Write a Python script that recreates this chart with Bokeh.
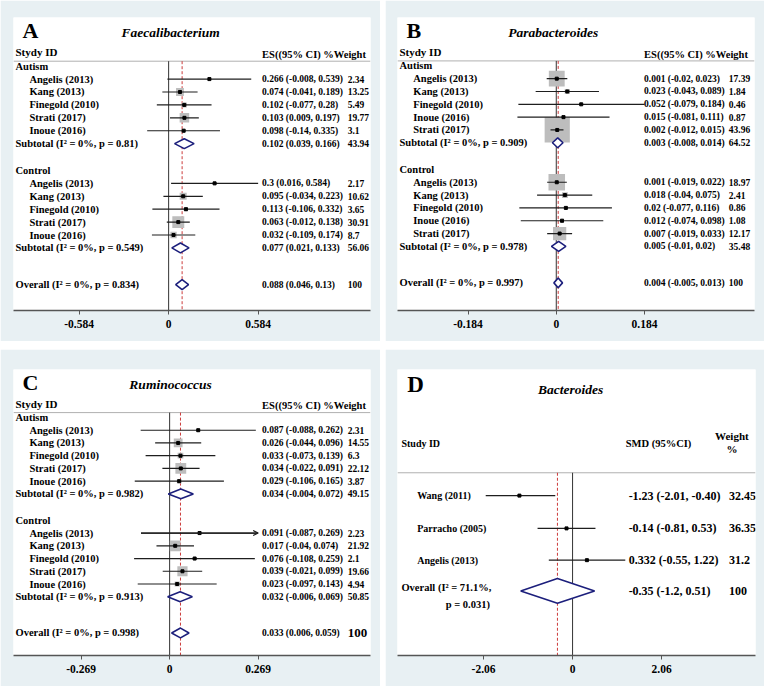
import math
from bokeh.plotting import figure
from bokeh.models import ColumnDataSource, Range1d, FixedTicker, Arrow, OpenHead
from bokeh.layouts import row, column
from bokeh.core.properties import value
from bokeh.embed import file_html
from bokeh.resources import INLINE

FONT = "Liberation Serif"
BG = "#e8f0f3"
NAVY = "#1c1f7c"
RED = "#cc3b3b"
BOXC = "#bdbdbd"
LINEC = "#1e1e1e"

# ======================= DATA =======================
# ---- Panel A: Faecalibacterium
a_title = "Faecalibacterium"
a_ticks = ["-0.584", "0", "0.584"]
a_aut_names = ["Angelis (2013)", "Kang (2013)", "Finegold (2010)", "Strati (2017)", "Inoue (2016)"]
a_aut_es = ["0.266", "0.074", "0.102", "0.103", "0.098"]
a_aut_lo = ["-0.008", "-0.041", "-0.077", "0.009", "-0.14"]
a_aut_hi = ["0.539", "0.189", "0.28", "0.197", "0.335"]
a_aut_w = ["2.34", "13.25", "5.49", "19.77", "3.1"]
a_aut_sub = ["0.102", "0.039", "0.166", "43.94"]
a_aut_het = ["0%", "0.81"]
a_ctl_names = ["Angelis (2013)", "Kang (2013)", "Finegold (2010)", "Strati (2017)", "Inoue (2016)"]
a_ctl_es = ["0.3", "0.095", "0.113", "0.063", "0.032"]
a_ctl_lo = ["0.016", "-0.034", "-0.106", "-0.012", "-0.109"]
a_ctl_hi = ["0.584", "0.223", "0.332", "0.138", "0.174"]
a_ctl_w = ["2.17", "10.62", "3.65", "30.91", "8.7"]
a_ctl_sub = ["0.077", "0.021", "0.133", "56.06"]
a_ctl_het = ["0%", "0.549"]
a_overall = ["0.088", "0.046", "0.13", "100"]
a_overall_het = ["0%", "0.834"]

# ---- Panel B: Parabacteroides
b_title = "Parabacteroides"
b_ticks = ["-0.184", "0", "0.184"]
b_aut_names = ["Angelis (2013)", "Kang (2013)", "Finegold (2010)", "Inoue (2016)", "Strati (2017)"]
b_aut_es = ["0.001", "0.023", "0.052", "0.015", "0.002"]
b_aut_lo = ["-0.02", "-0.043", "-0.079", "-0.081", "-0.012"]
b_aut_hi = ["0.023", "0.089", "0.184", "0.111", "0.015"]
b_aut_w = ["17.39", "1.84", "0.46", "0.87", "43.96"]
b_aut_sub = ["0.003", "-0.008", "0.014", "64.52"]
b_aut_het = ["0%", "0.909"]
b_ctl_names = ["Angelis (2013)", "Kang (2013)", "Finegold (2010)", "Inoue (2016)", "Strati (2017)"]
b_ctl_es = ["0.001", "0.018", "0.02", "0.012", "0.007"]
b_ctl_lo = ["-0.019", "-0.04", "-0.077", "-0.074", "-0.019"]
b_ctl_hi = ["0.022", "0.075", "0.116", "0.098", "0.033"]
b_ctl_w = ["18.97", "2.41", "0.86", "1.08", "12.17"]
b_ctl_sub = ["0.005", "-0.01", "0.02", "35.48"]
b_ctl_het = ["0%", "0.978"]
b_overall = ["0.004", "-0.005", "0.013", "100"]
b_overall_het = ["0%", "0.997"]

# ---- Panel C: Ruminococcus
c_title = "Ruminococcus"
c_ticks = ["-0.269", "0", "0.269"]
c_aut_names = ["Angelis (2013)", "Kang (2013)", "Finegold (2010)", "Strati (2017)", "Inoue (2016)"]
c_aut_es = ["0.087", "0.026", "0.033", "0.034", "0.029"]
c_aut_lo = ["-0.088", "-0.044", "-0.073", "-0.022", "-0.106"]
c_aut_hi = ["0.262", "0.096", "0.139", "0.091", "0.165"]
c_aut_w = ["2.31", "14.55", "6.3", "22.12", "3.87"]
c_aut_sub = ["0.034", "-0.004", "0.072", "49.15"]
c_aut_het = ["0%", "0.982"]
c_ctl_names = ["Angelis (2013)", "Kang (2013)", "Finegold (2010)", "Strati (2017)", "Inoue (2016)"]
c_ctl_es = ["0.091", "0.017", "0.076", "0.039", "0.023"]
c_ctl_lo = ["-0.087", "-0.04", "-0.108", "-0.021", "-0.097"]
c_ctl_hi = ["0.269", "0.074", "0.259", "0.099", "0.143"]
c_ctl_w = ["2.23", "21.92", "2.1", "19.66", "4.94"]
c_ctl_sub = ["0.032", "-0.006", "0.069", "50.85"]
c_ctl_het = ["0%", "0.913"]
c_overall = ["0.033", "0.006", "0.059", "100"]
c_overall_het = ["0%", "0.998"]
c_ctl_arrow = ["Angelis (2013)"]   # CI drawn with an arrow head

# ---- Panel D: Bacteroides
d_title = "Bacteroides"
d_ticks = ["-2.06", "0", "2.06"]
d_names = ["Wang (2011)", "Parracho (2005)", "Angelis (2013)"]
d_es = ["-1.23", "-0.14", "0.332"]
d_lo = ["-2.01", "-0.81", "-0.55"]
d_hi = ["-0.40", "0.53", "1.22"]
d_w = ["32.45", "36.35", "31.2"]
d_overall = ["-0.35", "-1.2", "0.51", "100"]
d_overall_het = ["71.1%", "0.031"]

NULL_VALUE = 0.0

# ======================= LAYOUT (reference px) =======================
GEO = {
    "A": dict(L=13, R=372, Z=169, S=90.0, H=295, w=380, h=341, bl=13, br=10, bt=17, bb=31),
    "B": dict(L=399, R=761, Z=560, S=89.5, H=297, w=379, h=341, bl=12, br=10, bt=15, bb=31),
    "C": dict(L=13, R=372, Z=170, S=89.0, H=292, w=380, h=337, bl=13, br=10, bt=17, bb=31),
    "D": dict(L=399, R=763, Z=577, S=90.5, H=288, w=379, h=337, bl=12, br=9, bt=20, bb=31),
}
LET_Y, TITLE_Y, HDR_ID_Y, HDR_ES_Y, SEP_Y = 13, 15, 35, 37, 44
GROUP_Y = [49, 154]
STEP = 13
OVERALL_Y = 269
LET_X, TITLE_CX, GRP_X, NAME_X, ES_X, W_X = 9, 158, 2, 16, 250, 336


def fl(a):
    return [float(v) for v in a]


def txt(p, xs, ys, texts, size, align="left", style="bold"):
    src = ColumnDataSource(dict(x=list(xs), y=list(ys), t=list(texts)))
    p.text("x", "y", text="t", source=src, text_font=value(FONT), text_font_size=size,
           text_font_style=style, text_align=align, text_baseline="middle", text_color="black")


def base_fig(key, ticks):
    g = GEO[key]
    T = float(ticks[-1])
    X = lambda px: (px - g["Z"]) / g["S"] * T
    p = figure(width=g["w"], height=g["h"], x_range=Range1d(X(g["L"]), X(g["R"])),
               y_range=Range1d(g["H"], 0), output_backend="svg", toolbar_location=None,
               y_axis_location=None, min_border_left=g["bl"], min_border_right=g["br"],
               min_border_top=g["bt"], min_border_bottom=g["bb"],
               background_fill_color="white", border_fill_color=BG, outline_line_color=None)
    p.grid.visible = False
    ax = p.xaxis[0]
    tv = fl(ticks)
    ax.ticker = FixedTicker(ticks=tv)
    ax.major_label_overrides = {t: s for t, s in zip(tv, ticks)}
    ax.axis_line_color = "#555555"
    ax.axis_line_width = 1.3
    ax.major_tick_line_color = "#555555"
    ax.major_tick_out = 4
    ax.major_tick_in = 0
    ax.minor_tick_out = 0
    ax.minor_tick_in = 0
    ax.major_label_standoff = 5
    ax.major_label_text_font = FONT
    ax.major_label_text_font_style = "bold"
    ax.major_label_text_font_size = "11.5px"
    ax.major_label_text_color = "black"
    XO = lambda off: X(g["L"] + off)
    return p, g, X, XO


def abc_panel(key, letter, title, ticks, groups, overall, overall_het, box_k,
              arrow_names=(), overall_w_size="9.5px"):
    p, g, X, XO = base_fig(key, ticks)
    H = g["H"]
    xl, xr = X(g["L"]), X(g["R"])
    ov = fl(overall[:3])

    # separator and reference lines
    p.segment(x0=[xl], y0=[SEP_Y], x1=[xr], y1=[SEP_Y], line_color="#b0b0b0", line_width=1)
    p.segment(x0=[NULL_VALUE], y0=[SEP_Y], x1=[NULL_VALUE], y1=[H], line_color="#333333", line_width=1)
    p.segment(x0=[ov[0]], y0=[SEP_Y], x1=[ov[0]], y1=[H], line_color=RED, line_width=1,
              line_dash="3 2")

    st = dict(y=[], es=[], lo=[], hi=[], size=[], name=[], lab=[], wt=[])
    arrows = dict(x0=[], x1=[], y=[])
    dia_xs, dia_ys = [], []
    sub_rows = dict(y=[], lab=[], est=[], wt=[])
    grp_rows = dict(y=[], lab=[])
    for gi, grp in enumerate(groups):
        gy = GROUP_Y[gi]
        grp_rows["y"].append(gy)
        grp_rows["lab"].append(grp["name"])
        for i, nm in enumerate(grp["names"]):
            y = gy + STEP * (i + 1)
            e, lo, hi, w = float(grp["es"][i]), float(grp["lo"][i]), float(grp["hi"][i]), float(grp["w"][i])
            st["y"].append(y); st["es"].append(e); st["lo"].append(lo); st["hi"].append(hi)
            st["size"].append(box_k * math.sqrt(w)); st["name"].append(nm)
            st["lab"].append(f'{grp["es"][i]} ({grp["lo"][i]}, {grp["hi"][i]})')
            st["wt"].append(grp["w"][i])
            if grp["name"] == "Control" and nm in arrow_names:
                arrows["x0"].append(lo); arrows["x1"].append(hi); arrows["y"].append(y)
        sy = gy + STEP * 6
        s = grp["sub"]
        se, slo, shi = fl(s[:3])
        dia_xs.append([slo, se, shi, se]); dia_ys.append([sy, sy - 5, sy, sy + 5])
        sub_rows["y"].append(sy)
        sub_rows["lab"].append(f'Subtotal (I\u00b2 = {grp["het"][0]}, p = {grp["het"][1]})')
        sub_rows["est"].append(f"{s[0]} ({s[1]}, {s[2]})")
        sub_rows["wt"].append(s[3])
    dia_xs.append([ov[1], ov[0], ov[2], ov[0]])
    dia_ys.append([OVERALL_Y, OVERALL_Y - 5, OVERALL_Y, OVERALL_Y + 5])

    src = ColumnDataSource(st)
    p.scatter("es", "y", size="size", marker="square", source=src, fill_color=BOXC, line_color=None)
    p.segment(x0="lo", y0="y", x1="hi", y1="y", source=src, line_color=LINEC, line_width=1.2)
    p.scatter("es", "y", size=3, marker="square", source=src, fill_color="black", line_color="black")
    if arrows["y"]:
        asrc = ColumnDataSource(arrows)
        p.add_layout(Arrow(end=OpenHead(size=5, line_color=LINEC, line_width=1.2),
                           x_start="x0", y_start="y", x_end="x1", y_end="y", source=asrc,
                           line_color=LINEC, line_width=1.2))
    p.patches(dia_xs, dia_ys, fill_color="white", line_color=NAVY, line_width=1.6)

    # texts
    txt(p, [XO(LET_X)], [LET_Y], [letter], "22px")
    txt(p, [XO(TITLE_CX)], [TITLE_Y], [title], "13.5px", align="center", style="bold italic")
    txt(p, [XO(GRP_X)], [HDR_ID_Y], ["Stydy ID"], "11px")
    txt(p, [XO(ES_X)], [HDR_ES_Y], ["ES((95% CI) %Weight"], "10.5px")
    txt(p, [XO(GRP_X)] * len(grp_rows["y"]), grp_rows["y"], grp_rows["lab"], "10.5px")
    txt(p, [XO(NAME_X)] * len(st["y"]), st["y"], st["name"], "10.5px")
    txt(p, [XO(GRP_X)] * len(sub_rows["y"]), sub_rows["y"], sub_rows["lab"], "10.5px")
    txt(p, [XO(GRP_X)], [OVERALL_Y], [f"Overall (I\u00b2 = {overall_het[0]}, p = {overall_het[1]})"], "10.5px")
    txt(p, [XO(ES_X)] * len(st["y"]), st["y"], st["lab"], "9.5px")
    txt(p, [XO(W_X)] * len(st["y"]), st["y"], st["wt"], "9.5px")
    txt(p, [XO(ES_X)] * len(sub_rows["y"]), sub_rows["y"], sub_rows["est"], "9.5px")
    txt(p, [XO(W_X)] * len(sub_rows["y"]), sub_rows["y"], sub_rows["wt"], "9.5px")
    txt(p, [XO(ES_X)], [OVERALL_Y], [f"{overall[0]} ({overall[1]}, {overall[2]})"], "9.5px")
    txt(p, [XO(W_X)], [OVERALL_Y], [overall[3]], overall_w_size)
    return p


def grp(name, names, es, lo, hi, w, sub, het):
    return dict(name=name, names=names, es=es, lo=lo, hi=hi, w=w, sub=sub, het=het)


pA = abc_panel("A", "A", a_title, a_ticks,
               [grp("Autism", a_aut_names, a_aut_es, a_aut_lo, a_aut_hi, a_aut_w, a_aut_sub, a_aut_het),
                grp("Control", a_ctl_names, a_ctl_es, a_ctl_lo, a_ctl_hi, a_ctl_w, a_ctl_sub, a_ctl_het)],
               a_overall, a_overall_het, box_k=2.15)
pB = abc_panel("B", "B", b_title, b_ticks,
               [grp("Autism", b_aut_names, b_aut_es, b_aut_lo, b_aut_hi, b_aut_w, b_aut_sub, b_aut_het),
                grp("Control", b_ctl_names, b_ctl_es, b_ctl_lo, b_ctl_hi, b_ctl_w, b_ctl_sub, b_ctl_het)],
               b_overall, b_overall_het, box_k=3.8)
pC = abc_panel("C", "C", c_title, c_ticks,
               [grp("Autism", c_aut_names, c_aut_es, c_aut_lo, c_aut_hi, c_aut_w, c_aut_sub, c_aut_het),
                grp("Control", c_ctl_names, c_ctl_es, c_ctl_lo, c_ctl_hi, c_ctl_w, c_ctl_sub, c_ctl_het)],
               c_overall, c_overall_het, box_k=2.3, arrow_names=c_ctl_arrow, overall_w_size="13px")


# ---------------- Panel D ----------------
def d_panel():
    p, g, X, XO = base_fig("D", d_ticks)
    H = g["H"]
    xl, xr = X(g["L"]), X(g["R"])
    SEP = 104
    rows_y = [127, 160, 192]
    OV_Y = 223
    ov = fl(d_overall[:3])
    p.segment(x0=[xl], y0=[SEP], x1=[xr], y1=[SEP], line_color="#b0b0b0", line_width=1)
    p.segment(x0=[NULL_VALUE], y0=[SEP], x1=[NULL_VALUE], y1=[H], line_color="#333333", line_width=1)
    p.segment(x0=[ov[0]], y0=[SEP], x1=[ov[0]], y1=[H], line_color=RED, line_width=1, line_dash="3 2")
    src = ColumnDataSource(dict(y=rows_y, es=fl(d_es), lo=fl(d_lo), hi=fl(d_hi)))
    p.segment(x0="lo", y0="y", x1="hi", y1="y", source=src, line_color=LINEC, line_width=1.2)
    p.scatter("es", "y", size=3, marker="square", source=src, fill_color="black", line_color="black")
    p.patches([[ov[1], ov[0], ov[2], ov[0]]], [[OV_Y, OV_Y - 12.5, OV_Y, OV_Y + 12.5]],
              fill_color="white", line_color=NAVY, line_width=1.6)

    txt(p, [XO(10)], [15], ["D"], "23px")
    txt(p, [XO(176)], [20], [d_title], "13.5px", align="center", style="bold italic")
    txt(p, [XO(4)], [75], ["Study ID"], "10px")
    txt(p, [XO(232)], [75], ["SMD (95%CI)"], "10.5px")
    txt(p, [XO(340)], [67], ["Weight"], "11px", align="center")
    txt(p, [XO(340)], [80], ["%"], "11px", align="center")
    txt(p, [XO(20)] * 3, rows_y, d_names, "10px")
    labs = [f"{e} ({l}, {h})" for e, l, h in zip(d_es, d_lo, d_hi)]
    txt(p, [XO(235)] * 3, rows_y, labs, "12px")
    txt(p, [XO(337)] * 3, rows_y, d_w, "12px")
    txt(p, [XO(4)], [OV_Y - 3], [f"Overall (I\u00b2 = {d_overall_het[0]},"], "10.5px")
    txt(p, [XO(94)], [OV_Y + 14], [f"p = {d_overall_het[1]})"], "10.5px", align="right")
    txt(p, [XO(235)], [OV_Y], [f"{d_overall[0]} ({d_overall[1]}, {d_overall[2]})"], "12px")
    txt(p, [XO(337)], [OV_Y], [d_overall[3]], "12px")
    return p


pD = d_panel()

layout = column(row(pA, pB, spacing=5), row(pC, pD, spacing=5), spacing=8)
open("out.html", "w").write(file_html(layout, INLINE))
